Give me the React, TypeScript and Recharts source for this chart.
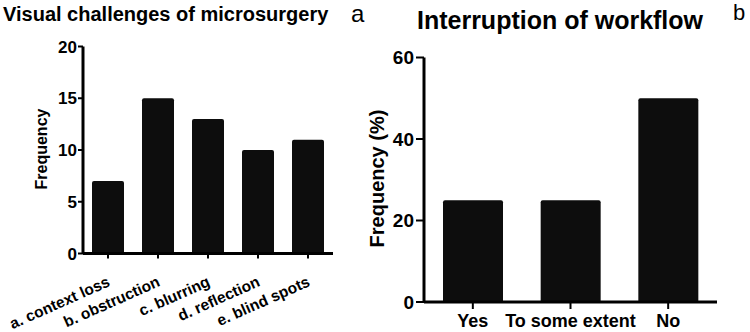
import React from 'react';
import { BarChart, Bar, XAxis, YAxis } from 'recharts';

// Panel a: visual challenges
const challengeCategories = ['a. context loss', 'b. obstruction', 'c. blurring', 'd. reflection', 'e. blind spots'];
const challengeValues = [7, 15, 13, 10, 11];
const challengeTicks = [0, 5, 10, 15, 20];

// Panel b: interruption of workflow
const workflowCategories = ['Yes', 'To some extent', 'No'];
const workflowValues = [25, 25, 50];
const workflowTicks = [0, 20, 40, 60];

const FONT = '"Liberation Sans", Arial, Helvetica, sans-serif';
const INK = '#0d0d0d';

const challengeData = challengeCategories.map((name, i) => ({ name, value: challengeValues[i] }));
const workflowData = workflowCategories.map((name, i) => ({ name, value: workflowValues[i] }));

// Slanted category label for panel a
function SlantedTick(props: any) {
  const { x, y, payload } = props;
  const tx = x + 3;
  const ty = y + 25;
  return (
    <text
      x={tx}
      y={ty}
      transform={`rotate(-24, ${tx}, ${ty})`}
      textAnchor="end"
      fontFamily={FONT}
      fontWeight={700}
      fontSize={15.5}
      fill="#000"
    >
      {payload.value}
    </text>
  );
}

export default function App() {
  return (
    <div
      style={{
        position: 'absolute',
        left: 0,
        top: 0,
        width: 750,
        height: 332,
        background: '#fff',
        fontFamily: FONT,
      }}
    >
      {/* Panel a */}
      <div style={{ position: 'absolute', left: 0, top: 0 }}>
        <BarChart
          width={375}
          height={332}
          data={challengeData}
          margin={{ top: 46.5, right: 42, bottom: 18.5, left: 23 }}
        >
          <XAxis
            dataKey="name"
            height={60}
            interval={0}
            axisLine={{ stroke: '#000', strokeWidth: 3 }}
            tickLine={{ stroke: '#000', strokeWidth: 2 }}
            tickSize={5}
            tick={<SlantedTick />}
          />
          <YAxis
            width={60}
            domain={[0, 20]}
            ticks={challengeTicks}
            interval={0}
            axisLine={{ stroke: '#000', strokeWidth: 3 }}
            tickLine={{ stroke: '#000', strokeWidth: 2 }}
            tickSize={5}
            tickMargin={1}
            tick={{ fill: '#000', fontSize: 17, fontWeight: 700, fontFamily: FONT }}
          />
          <Bar dataKey="value" fill={INK} barSize={32} radius={[2, 2, 0, 0]} isAnimationActive={false} />
        </BarChart>
      </div>

      {/* Panel b */}
      <div style={{ position: 'absolute', left: 375, top: 0 }}>
        <BarChart
          width={375}
          height={332}
          data={workflowData}
          margin={{ top: 57.5, right: 33, bottom: 0, left: 0 }}
        >
          <XAxis
            dataKey="name"
            height={30}
            interval={0}
            axisLine={{ stroke: '#000', strokeWidth: 3 }}
            tickLine={{ stroke: '#000', strokeWidth: 2 }}
            tickSize={7}
            tickMargin={5}
            tick={{ fill: '#000', fontSize: 18, fontWeight: 700, fontFamily: FONT }}
          />
          <YAxis
            width={49}
            domain={[0, 60]}
            ticks={workflowTicks}
            interval={0}
            axisLine={{ stroke: '#000', strokeWidth: 3 }}
            tickLine={{ stroke: '#000', strokeWidth: 2 }}
            tickSize={8}
            tickMargin={2}
            tick={{ fill: '#000', fontSize: 19, fontWeight: 700, fontFamily: FONT }}
          />
          <Bar dataKey="value" fill={INK} barSize={60} radius={[2, 2, 0, 0]} isAnimationActive={false} />
        </BarChart>
      </div>

      {/* Titles, panel letters and axis titles */}
      <svg
        width={750}
        height={332}
        style={{ position: 'absolute', left: 0, top: 0, pointerEvents: 'none' }}
      >
        <text x={3} y={21} fontFamily={FONT} fontWeight={700} fontSize={20} fill="#000">
          Visual challenges of microsurgery
        </text>
        <text x={351} y={22} fontFamily={FONT} fontSize={24} fill="#000">
          a
        </text>
        <text x={560} y={29} textAnchor="middle" fontFamily={FONT} fontWeight={700} fontSize={25} fill="#000">
          Interruption of workflow
        </text>
        <text x={733} y={20} fontFamily={FONT} fontSize={22} fill="#000">
          b
        </text>
        <text
          x={47}
          y={149}
          transform="rotate(-90, 47, 149)"
          textAnchor="middle"
          fontFamily={FONT}
          fontWeight={700}
          fontSize={16}
          fill="#000"
        >
          Frequency
        </text>
        <text
          x={384}
          y={178.5}
          transform="rotate(-90, 384, 178.5)"
          textAnchor="middle"
          fontFamily={FONT}
          fontWeight={700}
          fontSize={20}
          fill="#000"
        >
          Frequency (%)
        </text>
      </svg>
    </div>
  );
}
